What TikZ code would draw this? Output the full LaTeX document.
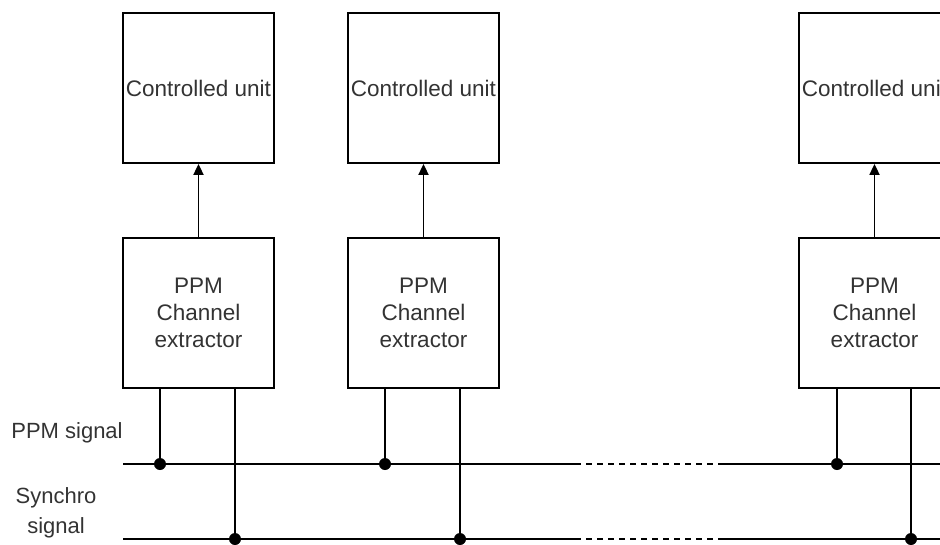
\documentclass[tikz,border=0pt]{standalone}
\usepackage{fontspec}
\setmainfont{Liberation Sans}
\usetikzlibrary{arrows.meta}
\begin{document}
\begin{tikzpicture}[x=1pt,y=-1pt,
  box/.style={draw, line width=1.8pt, minimum width=151pt, minimum height=150pt, inner sep=0pt, align=center, font=\fontsize{22.5}{27}\selectfont, text=black!80},
  wire/.style={line width=1.8pt},
  lbl/.style={align=center, font=\fontsize{22}{30}\selectfont, text=black!80},
  dotp/.style={circle, fill=black, minimum size=12pt, inner sep=0pt}]
\useasboundingbox (0,0) rectangle (940,544);
\clip (0,0) rectangle (940,544);
% columns
\foreach \i/\cx in {1/198.5, 2/423.5, 3/874.5}{
  \node[box] (cu\i) at (\cx,88) {Controlled unit};
  \node[box] (ex\i) at (\cx,313) {PPM\\Channel\\extractor};
  \draw[wire, -{Triangle[length=11pt,width=10pt]}] (ex\i.north) -- (cu\i.south);
}
\node[dotp] (p1) at (160,464) {};
\node[dotp] (s1) at (235,539) {};
\node[dotp] (p2) at (385,464) {};
\node[dotp] (s2) at (460,539) {};
\node[dotp] (p3) at (837,464) {};
\node[dotp] (s3) at (911,539) {};
\foreach \i in {1,2,3}{
  \draw[wire] (ex\i.south -| p\i) -- (p\i.center);
  \draw[wire] (ex\i.south -| s\i) -- (s\i.center);
}
% buses
\coordinate (pl) at (123,464);
\coordinate (pa) at (575,464);
\coordinate (pb) at (722,464);
\coordinate (pr) at (945,464);
\coordinate (sl) at (123,539);
\coordinate (sa) at (575,539);
\coordinate (sb) at (722,539);
\coordinate (sr) at (945,539);
\draw[wire] (pl) -- (pa);
\draw[wire, dash pattern=on 6pt off 5pt] (pa) -- (pb);
\draw[wire] (pb) -- (pr);
\draw[wire] (sl) -- (sa);
\draw[wire, dash pattern=on 6pt off 5pt] (sa) -- (sb);
\draw[wire] (sb) -- (sr);
\node[lbl] (lp) at (67,433) {PPM signal};
\node[lbl] (ls) at (56,513) {Synchro\\signal};
\end{tikzpicture}
\end{document}
